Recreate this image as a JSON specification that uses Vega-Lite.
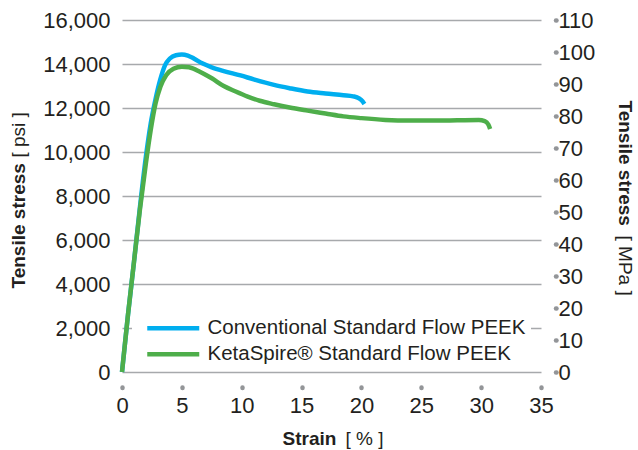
{
  "$schema": "https://vega.github.io/schema/vega-lite/v6.json",
  "width": 419,
  "height": 352,
  "autosize": {"type": "none"},
  "padding": {"left": 122, "top": 20, "right": 97, "bottom": 78},
  "config": {
    "font": "Liberation Sans",
    "view": {"stroke": null},
    "axis": {"labelColor": "#231f20", "titleColor": "#231f20", "labelFontSize": 22, "titleFontSize": 19, "labelFont": "Liberation Sans", "titleFont": "Liberation Sans"},
    "legend": {"labelColor": "#231f20", "labelFont": "Liberation Sans"}
  },
  "datasets": {
    "curves": [
      {"series": "Conventional Standard Flow PEEK", "strain": 0, "psi": 0},
      {"series": "Conventional Standard Flow PEEK", "strain": 0.5, "psi": 2600},
      {"series": "Conventional Standard Flow PEEK", "strain": 1.0, "psi": 5000},
      {"series": "Conventional Standard Flow PEEK", "strain": 1.5, "psi": 7500},
      {"series": "Conventional Standard Flow PEEK", "strain": 2.0, "psi": 9800},
      {"series": "Conventional Standard Flow PEEK", "strain": 2.4, "psi": 11300},
      {"series": "Conventional Standard Flow PEEK", "strain": 2.8, "psi": 12400},
      {"series": "Conventional Standard Flow PEEK", "strain": 3.2, "psi": 13300},
      {"series": "Conventional Standard Flow PEEK", "strain": 3.6, "psi": 13950},
      {"series": "Conventional Standard Flow PEEK", "strain": 4.0, "psi": 14250},
      {"series": "Conventional Standard Flow PEEK", "strain": 4.5, "psi": 14400},
      {"series": "Conventional Standard Flow PEEK", "strain": 5.0, "psi": 14430},
      {"series": "Conventional Standard Flow PEEK", "strain": 5.5, "psi": 14380},
      {"series": "Conventional Standard Flow PEEK", "strain": 6.0, "psi": 14250},
      {"series": "Conventional Standard Flow PEEK", "strain": 6.7, "psi": 14030},
      {"series": "Conventional Standard Flow PEEK", "strain": 7.5, "psi": 13850},
      {"series": "Conventional Standard Flow PEEK", "strain": 8.5, "psi": 13680},
      {"series": "Conventional Standard Flow PEEK", "strain": 9.9, "psi": 13480},
      {"series": "Conventional Standard Flow PEEK", "strain": 11.0, "psi": 13300},
      {"series": "Conventional Standard Flow PEEK", "strain": 12.7, "psi": 13050},
      {"series": "Conventional Standard Flow PEEK", "strain": 14.0, "psi": 12900},
      {"series": "Conventional Standard Flow PEEK", "strain": 15.5, "psi": 12750},
      {"series": "Conventional Standard Flow PEEK", "strain": 17.0, "psi": 12660},
      {"series": "Conventional Standard Flow PEEK", "strain": 18.5, "psi": 12580},
      {"series": "Conventional Standard Flow PEEK", "strain": 19.3, "psi": 12530},
      {"series": "Conventional Standard Flow PEEK", "strain": 19.8, "psi": 12440},
      {"series": "Conventional Standard Flow PEEK", "strain": 20.1, "psi": 12300},
      {"series": "Conventional Standard Flow PEEK", "strain": 20.25, "psi": 12180},
      {"series": "KetaSpire® Standard Flow PEEK", "strain": 0, "psi": 0},
      {"series": "KetaSpire® Standard Flow PEEK", "strain": 0.5, "psi": 2600},
      {"series": "KetaSpire® Standard Flow PEEK", "strain": 1.0, "psi": 5000},
      {"series": "KetaSpire® Standard Flow PEEK", "strain": 1.5, "psi": 7400},
      {"series": "KetaSpire® Standard Flow PEEK", "strain": 2.0, "psi": 9500},
      {"series": "KetaSpire® Standard Flow PEEK", "strain": 2.4, "psi": 11000},
      {"series": "KetaSpire® Standard Flow PEEK", "strain": 2.8, "psi": 12200},
      {"series": "KetaSpire® Standard Flow PEEK", "strain": 3.2, "psi": 12950},
      {"series": "KetaSpire® Standard Flow PEEK", "strain": 3.7, "psi": 13500},
      {"series": "KetaSpire® Standard Flow PEEK", "strain": 4.3, "psi": 13780},
      {"series": "KetaSpire® Standard Flow PEEK", "strain": 5.0, "psi": 13880},
      {"series": "KetaSpire® Standard Flow PEEK", "strain": 5.6, "psi": 13850},
      {"series": "KetaSpire® Standard Flow PEEK", "strain": 6.5, "psi": 13650},
      {"series": "KetaSpire® Standard Flow PEEK", "strain": 7.5, "psi": 13350},
      {"series": "KetaSpire® Standard Flow PEEK", "strain": 8.5, "psi": 13000},
      {"series": "KetaSpire® Standard Flow PEEK", "strain": 9.5, "psi": 12750},
      {"series": "KetaSpire® Standard Flow PEEK", "strain": 10.5, "psi": 12520},
      {"series": "KetaSpire® Standard Flow PEEK", "strain": 11.5, "psi": 12330},
      {"series": "KetaSpire® Standard Flow PEEK", "strain": 12.7, "psi": 12170},
      {"series": "KetaSpire® Standard Flow PEEK", "strain": 14.0, "psi": 12020},
      {"series": "KetaSpire® Standard Flow PEEK", "strain": 15.5, "psi": 11880},
      {"series": "KetaSpire® Standard Flow PEEK", "strain": 17.0, "psi": 11750},
      {"series": "KetaSpire® Standard Flow PEEK", "strain": 18.5, "psi": 11620},
      {"series": "KetaSpire® Standard Flow PEEK", "strain": 20.0, "psi": 11540},
      {"series": "KetaSpire® Standard Flow PEEK", "strain": 22.0, "psi": 11460},
      {"series": "KetaSpire® Standard Flow PEEK", "strain": 24.0, "psi": 11430},
      {"series": "KetaSpire® Standard Flow PEEK", "strain": 26.0, "psi": 11430},
      {"series": "KetaSpire® Standard Flow PEEK", "strain": 28.0, "psi": 11440},
      {"series": "KetaSpire® Standard Flow PEEK", "strain": 29.8, "psi": 11450},
      {"series": "KetaSpire® Standard Flow PEEK", "strain": 30.3, "psi": 11400},
      {"series": "KetaSpire® Standard Flow PEEK", "strain": 30.6, "psi": 11250},
      {"series": "KetaSpire® Standard Flow PEEK", "strain": 30.75, "psi": 11050}
    ]
  },
  "layer": [
    {
      "data": {"name": "curves"},
      "mark": {"type": "line", "strokeWidth": 4.5, "interpolate": "monotone"},
      "encoding": {
        "x": {
          "field": "strain", "type": "quantitative",
          "scale": {"domain": [0, 35], "nice": false, "zero": false},
          "axis": {
            "orient": "bottom", "values": [0, 5, 10, 15, 20, 25, 30, 35], "offset": 15,
            "domain": false, "grid": false, "ticks": true, "tickSize": 0.5, "tickWidth": 4.5,
            "tickCap": "round", "tickColor": "#939598", "labelPadding": 8, "labelFlush": false,
            "title": "Strain", "titleFontWeight": "bold", "titleX": 160, "titleY": 51,
            "titleAlign": "left", "titleBaseline": "middle"
          }
        },
        "y": {
          "field": "psi", "type": "quantitative",
          "scale": {"domain": [0, 16000], "nice": false},
          "axis": {
            "orient": "left", "values": [0, 2000, 4000, 6000, 8000, 10000, 12000, 14000, 16000],
            "format": ",d", "domain": false, "ticks": false, "tickSize": 0, "labelPadding": 12,
            "grid": true, "gridColor": "#a7a9ac", "gridWidth": 1.5,
            "title": "Tensile stress", "titleFontWeight": "bold", "titleAngle": -90,
            "titleX": -104, "titleY": 268, "titleAlign": "left", "titleBaseline": "middle"
          }
        },
        "color": {
          "field": "series", "type": "nominal",
          "scale": {"domain": ["Conventional Standard Flow PEEK", "KetaSpire® Standard Flow PEEK"], "range": ["#00aeef", "#4eae4a"]},
          "legend": {
            "orient": "none", "legendX": 10, "legendY": 293, "title": null,
            "fillColor": "#ffffff", "padding": 5, "labelFontSize": 20.5,
            "symbolType": "M0,0H10.4", "symbolSize": 100, "symbolStrokeWidth": 4.5,
            "labelOffset": 50, "rowPadding": 5, "labelLimit": 400
          }
        }
      }
    },
    {
      "mark": {"type": "point", "opacity": 0},
      "encoding": {
        "x": {
          "datum": 0, "type": "quantitative", "scale": {"domain": [0, 35], "nice": false},
          "axis": {
            "orient": "bottom", "offset": 15, "labels": false, "ticks": false, "domain": false, "grid": false,
            "title": "[ % ]", "titleFontWeight": "normal", "titleX": 223, "titleY": 51,
            "titleAlign": "left", "titleBaseline": "middle"
          }
        },
        "y": {
          "datum": 0, "type": "quantitative", "scale": {"domain": [0, 16000], "nice": false},
          "axis": {
            "orient": "left", "labels": false, "ticks": false, "domain": false, "grid": false,
            "title": "[ psi ]", "titleFontWeight": "normal", "titleAngle": -90,
            "titleX": -104, "titleY": 137, "titleAlign": "left", "titleBaseline": "middle"
          }
        }
      }
    },
    {
      "mark": {"type": "point", "opacity": 0},
      "encoding": {
        "y": {
          "datum": 0, "type": "quantitative", "scale": {"domain": [0, 110], "nice": false},
          "axis": {
            "orient": "right", "values": [0, 10, 20, 30, 40, 50, 60, 70, 80, 90, 100, 110], "offset": 14.5,
            "domain": false, "grid": false, "ticks": true, "tickSize": 0.5, "tickWidth": 4.5,
            "tickCap": "round", "tickColor": "#939598", "labelPadding": 2,
            "title": "Tensile stress", "titleFontWeight": "bold", "titleAngle": 90,
            "titleX": 69, "titleY": 80, "titleAlign": "left", "titleBaseline": "middle"
          }
        }
      }
    },
    {
      "mark": {"type": "point", "opacity": 0},
      "encoding": {
        "y": {
          "datum": 0, "type": "quantitative", "scale": {"domain": [0, 110], "nice": false},
          "axis": {
            "orient": "right", "offset": 14.5, "labels": false, "ticks": false, "domain": false, "grid": false,
            "title": "[ MPa ]", "titleFontWeight": "normal", "titleAngle": 90,
            "titleX": 69, "titleY": 215, "titleAlign": "left", "titleBaseline": "middle"
          }
        }
      }
    }
  ],
  "resolve": {
    "scale": {"y": "independent"},
    "axis": {"x": "independent", "y": "independent"}
  }
}
